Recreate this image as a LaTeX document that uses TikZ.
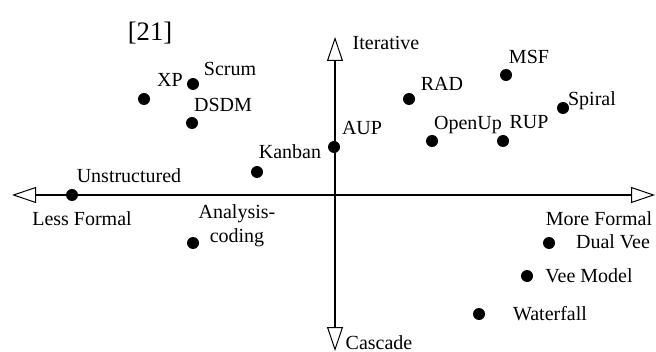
\documentclass[tikz,border=0pt]{standalone}
\usepackage{fontspec}
\setmainfont{Liberation Serif}
\usetikzlibrary{arrows.meta}

\begin{document}
\begin{tikzpicture}[x=.6pt,y=-.6pt,
  dot/.style={circle,fill=black,inner sep=0pt,minimum size=7.2pt},
  lbl/.style={anchor=base,inner sep=0pt,font=\fontsize{12}{14}\selectfont},
  axis/.style={<->,>={Triangle[open,length=14.4pt,width=9.6pt,line width=.6pt]}}]
\useasboundingbox (0,0) rectangle (656,352);
% Axes
\coordinate (west) at (12,195);
\coordinate (east) at (655,195);
\coordinate (north) at (335,37);
\coordinate (south) at (335,351);
\draw[axis,line width=.7pt] (west) -- (east);
\draw[axis,line width=1.2pt] (north) -- (south);
\node[lbl] (iter) at (386,50) {Iterative};
\node[lbl] (casc) at (379,349) {Cascade};
\node[lbl] (less) at (82,225) {Less Formal};
\node[lbl] (more) at (599,225) {More Formal};
\node[lbl,font=\fontsize{16}{18}\selectfont] (ref) at (150,41) {[21]};
% Agile side
\node[dot] (xp) at (144,99) {};
\node[lbl] (xp-l) at (170,87) {XP};
\node[dot] (scrum) at (193,84) {};
\node[lbl] (scrum-l) at (230,76) {Scrum};
\node[dot] (dsdm) at (192,123) {};
\node[lbl] (dsdm-l) at (223,112) {DSDM};
\node[dot] (kanban) at (257,172) {};
\node[lbl] (kanban-l) at (290,159) {Kanban};
\node[dot] (unstr) at (72,195) {};
\node[lbl] (unstr-l) at (129,183) {Unstructured};
\node[dot] (anal) at (193,243) {};
\node[lbl] (anal-l) at (237,219) {Analysis-};
\node[lbl] (cod-l) at (237,242) {coding};
% Iterative side
\node[dot] (aup) at (334,147) {};
\node[lbl] (aup-l) at (362,135) {AUP};
\node[dot] (rad) at (409,99) {};
\node[lbl] (rad-l) at (442,91) {RAD};
\node[dot] (msf) at (506,75) {};
\node[lbl] (msf-l) at (529,64) {MSF};
\node[dot] (spiral) at (563,108) {};
\node[lbl] (spiral-l) at (592,106) {Spiral};
\node[dot] (openup) at (432,141) {};
\node[lbl] (openup-l) at (468,130) {OpenUp};
\node[dot] (rup) at (503,141) {};
\node[lbl] (rup-l) at (529,129) {RUP};
% Cascade side
\node[dot] (dual) at (549,243) {};
\node[lbl] (dual-l) at (613,249) {Dual Vee};
\node[dot] (vee) at (527,276) {};
\node[lbl] (vee-l) at (589,282) {Vee Model};
\node[dot] (water) at (479,314) {};
\node[lbl] (water-l) at (550,320) {Waterfall};
\end{tikzpicture}
\end{document}
